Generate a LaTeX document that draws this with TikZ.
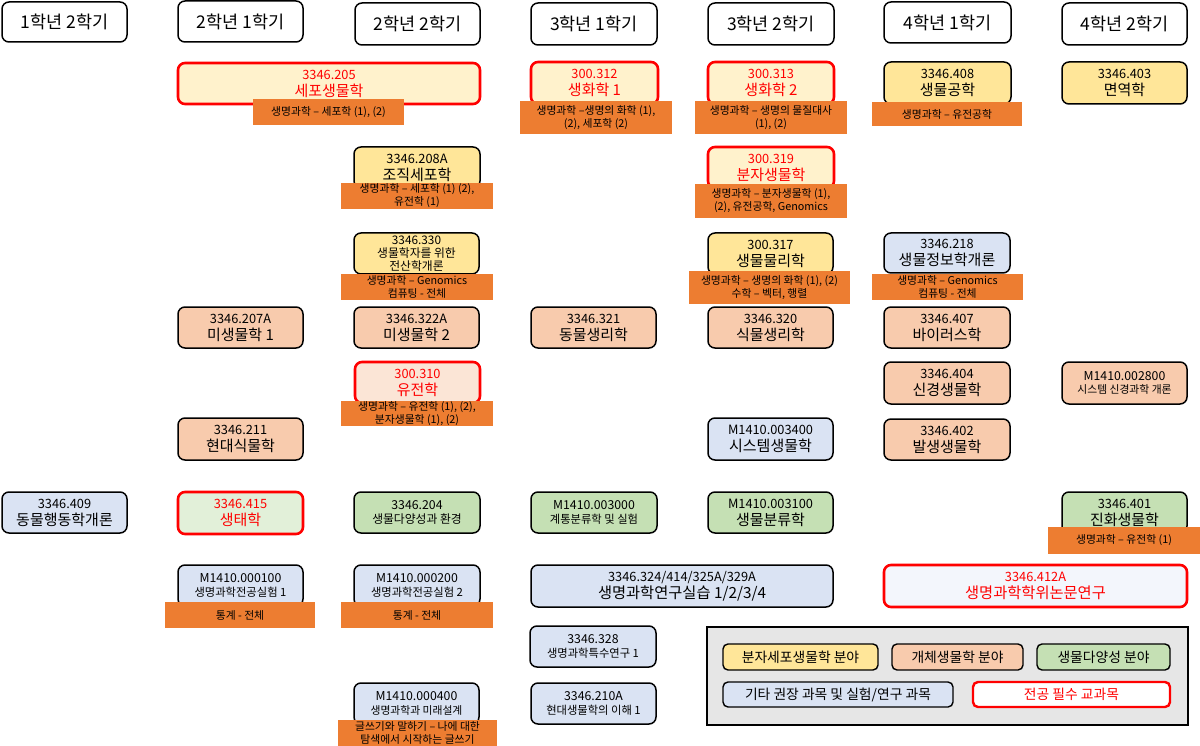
\documentclass[tikz,border=0pt]{standalone}
\usepackage{fontspec}
\setmainfont{Noto Sans CJK KR}
\definecolor{cyel}{HTML}{FFE699}
\definecolor{cpeach}{HTML}{F8CBAD}
\definecolor{cgreen}{HTML}{C5E0B4}
\definecolor{cblue}{HTML}{DAE3F3}
\definecolor{corange}{HTML}{ED7D31}
\definecolor{cred}{HTML}{FF0000}
\definecolor{lyel}{HTML}{FFF2CC}
\definecolor{lpeach}{HTML}{FBE5D6}
\definecolor{lgreen}{HTML}{E2F0D9}
\definecolor{lblue}{HTML}{F3F6FC}
\definecolor{cgray}{HTML}{E6E6E6}
\newcommand\fsz[2]{\fontsize{#1}{#2}\selectfont}
\newcommand\cd[1]{{\fsz{12.8}{14}#1}}
\newcommand\nm[1]{{\fsz{15}{17}#1}}
\newcommand\sn[1]{{\fsz{11.8}{14}#1}}
\newcommand\cbox[7]{\node[#2, minimum width={(#5)-(#3)}, minimum height={(#6)-(#4)}] (#1) at ({((#3)+(#5))/2},{-((#4)+(#6))/2}) {#7};}
\tikzset{
  box/.style={draw=black, line width=1.5pt, rounded corners=7pt, inner sep=0pt, align=center, font=\fsz{12.8}{17}},
  hdr/.style={box, fill=white, font=\fsz{17.5}{20}},
  yel/.style={box, fill=cyel},
  peach/.style={box, fill=cpeach},
  green/.style={box, fill=cgreen},
  blue/.style={box, fill=cblue},
  req/.style={draw=cred, line width=2.6pt, text=cred},
  lab/.style={fill=corange, draw=none, inner sep=0pt, align=center, font=\fsz{10.8}{13}},
  legbg/.style={fill=cgray, draw=black, line width=2pt, inner sep=0pt},
  legitem/.style={draw=black, line width=1.4pt, rounded corners=5pt, inner sep=0pt, font=\fsz{13.8}{16}},
}
\begin{document}
\begin{tikzpicture}[x=1pt,y=1pt]
\useasboundingbox (0,0) rectangle (1200,-746);
% headers
\cbox{h1}{hdr}{2}{2}{127}{42}{1학년 2학기}
\cbox{h2}{hdr}{178}{1}{303}{42}{2학년 1학기}
\cbox{h3}{hdr}{355}{3}{480}{45}{2학년 2학기}
\cbox{h4}{hdr}{531}{3}{657}{45}{3학년 1학기}
\cbox{h5}{hdr}{708}{3}{834}{45}{3학년 2학기}
\cbox{h6}{hdr}{884}{2}{1011}{43}{4학년 1학기}
\cbox{h7}{hdr}{1062}{3}{1187}{45}{4학년 2학기}
% row 1
\cbox{c205}{box,fill=lyel,req}{178}{63}{480}{104}{\cd{3346.205}\\\nm{세포생물학}}
\cbox{l205}{lab}{253}{99}{404}{125}{생명과학 – 세포학 (1), (2)}
\cbox{c312}{box,fill=lyel,req}{531}{62}{658}{104}{\cd{300.312}\\\nm{생화학 1}}
\cbox{l312}{lab}{520}{101}{672}{134}{생명과학 –생명의 화학 (1),\\(2), 세포학 (2)}
\cbox{c313}{box,fill=lyel,req}{708}{62}{834}{104}{\cd{300.313}\\\nm{생화학 2}}
\cbox{l313}{lab}{695}{101}{847}{134}{생명과학 – 생명의 물질대사\\(1), (2)}
\cbox{c408}{yel}{884}{62}{1011}{104}{\cd{3346.408}\\\nm{생물공학}}
\cbox{l408}{lab}{872}{102}{1022}{126}{생명과학 – 유전공학}
\cbox{c403}{yel}{1062}{62}{1187}{104}{\cd{3346.403}\\\nm{면역학}}
% row 2
\cbox{c208}{yel}{354}{147}{480}{188}{\cd{3346.208A}\\\nm{조직세포학}}
\cbox{l208}{lab}{341}{183}{493}{209}{생명과학 – 세포학 (1) (2),\\유전학 (1)}
\cbox{c319}{box,fill=lyel,req}{708}{147}{834}{188}{\cd{300.319}\\\nm{분자생물학}}
\cbox{l319}{lab}{695}{184}{847}{218}{생명과학 – 분자생물학 (1),\\(2), 유전공학, Genomics}
% row 3
\cbox{c330}{yel,font=\fsz{11.8}{13}}{354}{233}{479}{274}{3346.330\\생물학자를 위한\\전산학개론}
\cbox{l330}{lab}{341}{274}{493}{300}{생명과학 – Genomics\\컴퓨팅 - 전체}
\cbox{c317}{yel}{708}{233}{833}{274}{\cd{300.317}\\\nm{생물물리학}}
\cbox{l317}{lab}{689}{271}{850}{304}{생명과학 – 생명의 화학 (1), (2)\\수학 – 벡터, 행렬}
\cbox{c218}{blue}{884}{233}{1010}{273}{\cd{3346.218}\\\nm{생물정보학개론}}
\cbox{l218}{lab}{872}{274}{1023}{300}{생명과학 – Genomics\\컴퓨팅 - 전체}
% row 4
\cbox{c207}{peach}{178}{307}{303}{348}{\cd{3346.207A}\\\nm{미생물학 1}}
\cbox{c322}{peach}{354}{307}{479}{348}{\cd{3346.322A}\\\nm{미생물학 2}}
\cbox{c321}{peach}{531}{307}{656}{348}{\cd{3346.321}\\\nm{동물생리학}}
\cbox{c320}{peach}{708}{307}{833}{348}{\cd{3346.320}\\\nm{식물생리학}}
\cbox{c407}{peach}{884}{307}{1010}{348}{\cd{3346.407}\\\nm{바이러스학}}
% row 5
\cbox{c310}{box,fill=lpeach,req}{355}{362}{480}{403}{\cd{300.310}\\\nm{유전학}}
\cbox{l310}{lab}{341}{401}{493}{426}{생명과학 – 유전학 (1), (2),\\분자생물학 (1), (2)}
\cbox{c404}{peach}{884}{362}{1010}{404}{\cd{3346.404}\\\nm{신경생물학}}
\cbox{c2800}{peach,font=\fsz{12.3}{13.5}}{1062}{362}{1187}{404}{M1410.002800\\{\fsz{10.8}{12}시스템 신경과학 개론}}
% row 6
\cbox{c211}{peach}{178}{418}{303}{460}{\cd{3346.211}\\\nm{현대식물학}}
\cbox{c3400}{blue}{708}{418}{833}{460}{\cd{M1410.003400}\\\nm{시스템생물학}}
\cbox{c402}{peach}{884}{419}{1010}{460}{\cd{3346.402}\\\nm{발생생물학}}
% row 7
\cbox{c409}{blue}{2}{492}{127}{533}{\cd{3346.409}\\\nm{동물행동학개론}}
\cbox{c415}{box,fill=lgreen,req}{178}{492}{303}{534}{\cd{3346.415}\\\nm{생태학}}
\cbox{c204}{green,font=\fsz{12.3}{14.5}}{354}{492}{480}{533}{3346.204\\\sn{생물다양성과 환경}}
\cbox{c3000}{green,font=\fsz{12.3}{14}}{531}{492}{657}{533}{M1410.003000\\{\fsz{11.3}{13}계통분류학 및 실험}}
\cbox{c3100}{green}{708}{492}{833}{533}{\cd{M1410.003100}\\\nm{생물분류학}}
\cbox{c401}{green}{1062}{492}{1187}{533}{\cd{3346.401}\\\nm{진화생물학}}
\cbox{l401}{lab}{1048}{527}{1200}{554}{생명과학 – 유전학 (1)}
% row 8
\cbox{c100}{blue,font=\fsz{12.3}{14}}{178}{565}{303}{606}{M1410.000100\\{\fsz{11.3}{13}생명과학전공실험 1}}
\cbox{l100}{lab}{165}{602}{315}{628}{통계 - 전체}
\cbox{c200}{blue,font=\fsz{12.3}{14}}{354}{565}{480}{606}{M1410.000200\\{\fsz{11.3}{13}생명과학전공실험 2}}
\cbox{l200}{lab}{341}{602}{493}{628}{통계 - 전체}
\cbox{c324}{blue}{531}{565}{833}{607}{\cd{3346.324/414/325A/329A}\\{\fsz{15.3}{17}생명과학연구실습 1/2/3/4}}
\cbox{c412}{box,fill=lblue,req}{884}{565}{1187}{607}{\cd{3346.412A}\\{\fsz{15.3}{17}생명과학학위논문연구}}
% row 9
\cbox{c328}{blue,font=\fsz{12.3}{14}}{530}{626}{656}{667}{3346.328\\{\fsz{11.3}{13}생명과학특수연구 1}}
\cbox{c400}{blue,font=\fsz{12.3}{14}}{354}{683}{479}{724}{M1410.000400\\{\fsz{10.8}{12}생명과학과 미래설계}}
\cbox{l400}{lab}{338}{720}{497}{746}{글쓰기와 말하기 – 나에 대한\\탐색에서 시작하는 글쓰기}
\cbox{c210}{blue,font=\fsz{12.3}{14}}{531}{683}{656}{724}{3346.210A\\{\fsz{11.3}{13}현대생물학의 이해 1}}
% legend
\cbox{leg}{legbg}{707}{627}{1188}{725}{}
\cbox{g1}{legitem,fill=cyel}{723}{644}{878}{670}{분자세포생물학 분야}
\cbox{g2}{legitem,fill=cpeach}{892}{644}{1023}{670}{개체생물학 분야}
\cbox{g3}{legitem,fill=cgreen}{1037}{644}{1170}{670}{생물다양성 분야}
\cbox{g4}{legitem,fill=cblue}{723}{682}{953}{707}{기타 권장 과목 및 실험/연구 과목}
\cbox{g5}{legitem,fill=white,draw=cred,line width=2.4pt,text=cred}{973}{682}{1170}{707}{전공 필수 교과목}
\end{tikzpicture}
\end{document}
